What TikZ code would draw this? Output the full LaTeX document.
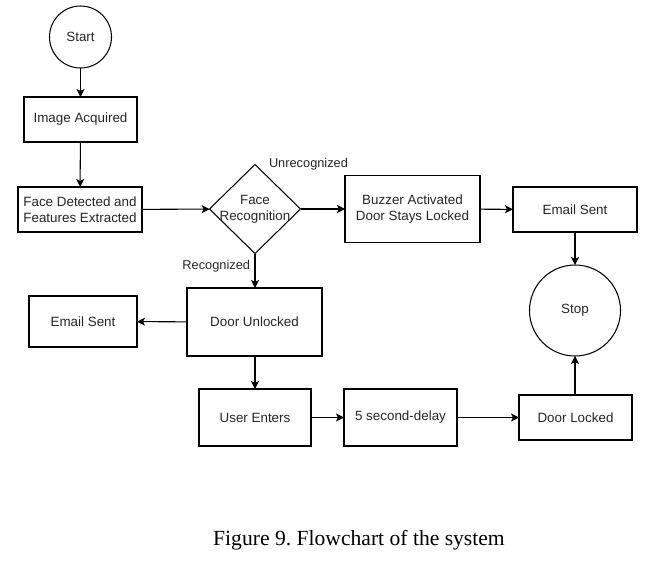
\documentclass[tikz,border=0pt]{standalone}
\usepackage{fontspec}
\setmainfont{Liberation Serif}
\newfontfamily\arialish{Liberation Sans}
\usetikzlibrary{shapes.geometric,arrows.meta}
\frenchspacing
\begin{document}
\begin{tikzpicture}[x=1pt,y=-1pt,
  every node/.style={font=\arialish\fontsize{13.4}{15.8}\selectfont, text=black!85, inner sep=0pt, outer sep=0pt},
  box/.style={draw=black, line width=1.05pt, rectangle, align=center},
  circ/.style={draw=black, line width=1.05pt, circle},
  arr/.style={draw=black, line width=1.05pt, -{Stealth[length=8pt,width=8pt,inset=2pt]}},
  lbl/.style={font=\arialish\fontsize{12.8}{15}\selectfont}
]
\fill[white] (0,0) rectangle (653,565);
\useasboundingbox (0,0) rectangle (653,565);

\node[circ, minimum size=62pt] (start) at (80.5,37) {\raisebox{-1.5pt}{Start}};
\node[box, minimum width=113pt, minimum height=45pt] (img) at (80.5,119.5) {Image Acquired};
\node[box, minimum width=124pt, minimum height=45pt] (face) at (80,209.5) {Face Detected and\\Features Extracted};
\node[draw=black, line width=1.05pt, diamond, minimum width=91pt, minimum height=89pt] (dia) at (255,209) {};
\node[align=center] (diatext) at (255,209.5) {Face\\Recognition};
\node[box, minimum width=135pt, minimum height=67pt] (buzz) at (412.5,209) {Buzzer Activated\\Door Stays Locked};
\node[box, minimum width=124pt, minimum height=45pt] (email1) at (575,209.5) {Email Sent};
\node[circ, minimum size=91pt] (stop) at (575,310.5) {\raisebox{-1.5pt}{Stop}};
\node[box, minimum width=108pt, minimum height=51pt] (email2) at (83,321.5) {Email Sent};
\node[box, minimum width=135pt, minimum height=68pt] (unlock) at (254.5,322) {Door Unlocked};
\node[box, minimum width=112pt, minimum height=57pt] (user) at (255,417.5) {User Enters};
\node[box, minimum width=113pt, minimum height=57pt] (delay) at (400.5,417.5) {5 second-delay};
\node[box, minimum width=113pt, minimum height=45pt] (locked) at (575.5,417.5) {Door Locked};

\node[lbl, anchor=west] (unrec) at (269,164) {Unrecognized};
\node[lbl, anchor=east] (rec) at (250,266) {Recognized};

\draw[arr] (start) -- (img);
\draw[arr] (img) -- (face);
\draw[arr] (face) -- (dia);
\draw[arr] (dia) -- (buzz);
\draw[arr] (buzz) -- (email1);
\draw[arr] (email1) -- (stop);
\draw[arr] (dia.south) -- (dia.south |- unlock.north);
\draw[arr] (unlock) -- (email2);
\draw[arr] (unlock.south -| user.north) -- (user);
\draw[arr] (user) -- (delay);
\draw[arr] (delay) -- (locked);
\draw[arr] (locked.north -| stop.south) -- (stop);

\node[font=\fontsize{21.6}{25}\selectfont, text=black] (cap) at (359,540) {Figure 9. Flowchart of the system};
\end{tikzpicture}
\end{document}
